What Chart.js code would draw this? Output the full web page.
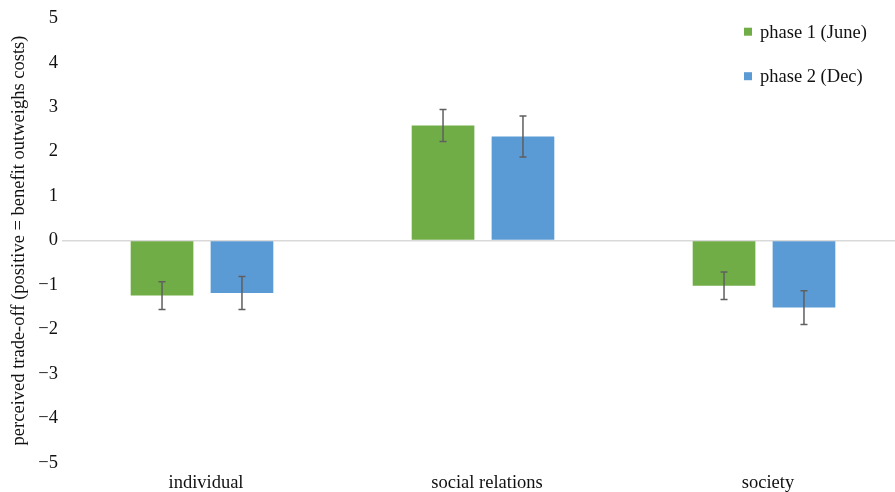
<!DOCTYPE html>
<html>
<head>
<meta charset="utf-8">
<script src="https://cdn.jsdelivr.net/npm/chart.js@4.4.1/dist/chart.umd.min.js"></script>
<style>
  html, body { margin: 0; padding: 0; background: #fff; overflow: hidden; }
  #wrap { width: 910px; height: 492px; }
</style>
</head>
<body>
<div id="wrap"><canvas id="c" width="910" height="492" style="width:910px;height:492px"></canvas></div>
<script>
const categories = ['individual', 'social relations', 'society'];
const seriesLabels = ['phase 1 (June)', 'phase 2 (Dec)'];
const phase1 = [-1.24, 2.59, -1.02];
const phase2 = [-1.18, 2.34, -1.51];
const phase1Err = [0.31, 0.36, 0.31];
const phase2Err = [0.37, 0.46, 0.38];
const yTicks = [-5, -4, -3, -2, -1, 0, 1, 2, 3, 4, 5];
const yAxisTitle = 'perceived trade-off (positive = benefit outweighs costs)';

const colors = ['#70AD47', '#5B9BD5'];
const FONT = '"Liberation Serif", "Times New Roman", serif';
const FS = 18.5;

const errorBars = {
  id: 'errorBars',
  afterDatasetsDraw(chart) {
    const ctx = chart.ctx;
    const ys = chart.scales.y;
    const errs = [phase1Err, phase2Err];
    ctx.save();
    ctx.strokeStyle = '#5f5f5f';
    ctx.lineWidth = 1.5;
    chart.data.datasets.forEach((ds, di) => {
      const meta = chart.getDatasetMeta(di);
      meta.data.forEach((bar, i) => {
        const v = ds.data[i], e = errs[di][i];
        const x = bar.x;
        const y1 = ys.getPixelForValue(v + e);
        const y2 = ys.getPixelForValue(v - e);
        ctx.beginPath();
        ctx.moveTo(x, y1); ctx.lineTo(x, y2);
        ctx.moveTo(x - 3.5, y1); ctx.lineTo(x + 3.5, y1);
        ctx.moveTo(x - 3.5, y2); ctx.lineTo(x + 3.5, y2);
        ctx.stroke();
      });
    });
    ctx.restore();
  }
};

const customLegend = {
  id: 'customLegend',
  afterDraw(chart) {
    const ctx = chart.ctx;
    ctx.save();
    ctx.font = FS + 'px ' + FONT;
    ctx.textBaseline = 'middle';
    ctx.textAlign = 'left';
    const rows = [31.7, 76.2];
    chart.data.datasets.forEach((ds, i) => {
      const cy = rows[i];
      ctx.fillStyle = ds.backgroundColor;
      ctx.fillRect(744, cy - 4, 8, 8);
      ctx.fillStyle = '#111';
      ctx.fillText(ds.label, 760, cy + 1);
    });
    ctx.restore();
  }
};

new Chart(document.getElementById('c'), {
  type: 'bar',
  data: {
    labels: categories,
    datasets: [
      { label: seriesLabels[0], data: phase1, backgroundColor: colors[0] },
      { label: seriesLabels[1], data: phase2, backgroundColor: colors[1] }
    ]
  },
  options: {
    responsive: false,
    animation: false,
    events: [],
    layout: { padding: { top: 18.3, right: 5.5, left: 0, bottom: 0 } },
    datasets: { bar: { categoryPercentage: 0.569, barPercentage: 0.784 } },
    plugins: { legend: { display: false }, tooltip: { enabled: false } },
    scales: {
      x: {
        grid: { display: false, drawTicks: false },
        border: { display: false },
        ticks: { color: '#111', font: { family: FONT, size: FS, lineHeight: 1.0 }, padding: 11, labelOffset: 4, maxRotation: 0 },
        afterFit(s) { s.height = 492 - 462.7; }
      },
      y: {
        min: -5, max: 5,
        afterBuildTicks(s) { s.ticks = yTicks.map(v => ({ value: v })); },
        grid: {
          drawTicks: false,
          color: c => (c.tick && c.tick.value === 0) ? '#d9d9d9' : 'rgba(0,0,0,0)',
          lineWidth: 1.6
        },
        border: { display: false },
        ticks: {
          color: '#111',
          font: { family: FONT, size: FS },
          padding: 3.5,
          callback: v => String(v).replace('-', '\u2212')
        },
        title: {
          display: true,
          text: yAxisTitle,
          color: '#111',
          font: { family: FONT, size: FS },
          padding: { top: 8, bottom: 0 }
        },
        afterFit(s) { s.width = 61.5; }
      }
    }
  },
  plugins: [errorBars, customLegend]
});
</script>
</body>
</html>
